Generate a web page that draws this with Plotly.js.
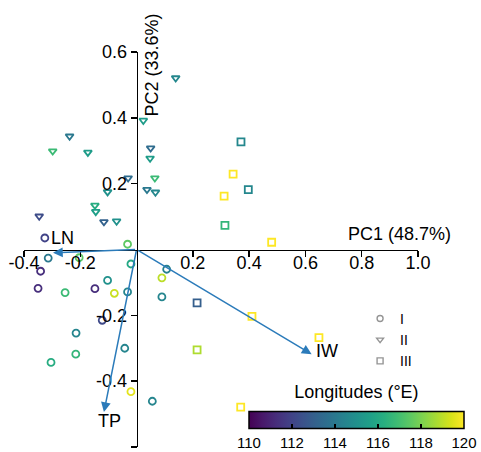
<!DOCTYPE html>
<html>
<head>
<meta charset="utf-8">
<script src="https://cdn.plot.ly/plotly-3.0.1.min.js"></script>
<style>html,body{margin:0;padding:0;background:#fff;}#chart{width:481px;height:452px;}</style>
</head>
<body>
<div id="chart"></div>
<script>
// Group I (circles)
const pc1_I = [-0.326, -0.032, -0.314, -0.204, -0.020, -0.341, 0.107, 0.090, -0.103, -0.350, -0.254, -0.148, -0.079, -0.032, 0.090, -0.122, -0.215, -0.042, -0.216, -0.304, -0.020, 0.056];
const pc2_I = [0.035, 0.016, -0.026, -0.025, -0.044, -0.066, -0.060, -0.086, -0.094, -0.118, -0.131, -0.119, -0.133, -0.129, -0.144, -0.215, -0.254, -0.300, -0.318, -0.343, -0.432, -0.461];
const lon_I = [112.0, 117.5, 114.0, 117.5, 116.0, 111.3, 114.3, 119.0, 115.0, 111.3, 116.8, 111.3, 119.2, 114.5, 114.5, 112.2, 114.5, 114.5, 116.6, 116.2, 119.6, 114.5];
// Group II (triangles)
const pc1_II = [0.139, 0.024, -0.238, -0.298, -0.173, 0.050, 0.048, 0.065, -0.030, -0.103, 0.037, 0.067, -0.148, -0.145, -0.346, -0.116, -0.071];
const pc2_II = [0.521, 0.392, 0.344, 0.299, 0.295, 0.308, 0.277, 0.217, 0.217, 0.175, 0.182, 0.174, 0.134, 0.115, 0.101, 0.084, 0.086];
const lon_II = [114.6, 115.5, 114.0, 116.8, 115.5, 113.5, 115.5, 116.8, 113.5, 115.0, 114.0, 114.6, 116.2, 115.6, 112.3, 113.1, 115.0];
// Group III (squares)
const pc1_III = [0.371, 0.343, 0.397, 0.311, 0.314, 0.480, 0.215, 0.215, 0.410, 0.648, 0.370];
const pc2_III = [0.327, 0.229, 0.182, 0.162, 0.073, 0.022, -0.162, -0.305, -0.203, -0.268, -0.479];
const lon_III = [114.6, 120.0, 114.6, 120.0, 116.6, 120.0, 113.0, 118.8, 120.0, 120.0, 120.0];
// Loadings
const loadNames = ['LN', 'TP', 'IW'];
const loadPC1 = [-0.297, -0.116, 0.622];
const loadPC2 = [-0.010, -0.494, -0.318];
// Ticks
const xTicks = [-0.4, -0.2, 0.2, 0.4, 0.6, 0.8, 1.0];
const xTickText = ['-0.4', '-0.2', '0.2', '0.4', '0.6', '0.8', '1.0'];
const yTicks = [-0.6, -0.4, -0.2, 0.2, 0.4, 0.6];
const yTickText = ['-0.6', '-0.4', '-0.2', '0.2', '0.4', '0.6'];
const cbTicks = [110, 112, 114, 116, 118, 120];
const groupNames = ['I', 'II', 'III'];

const FONT = 'Liberation Sans, Arial, sans-serif';
const ARROW = '#2b7bba';

function pts(x, y, c, sym) {
  return {
    type: 'scatter', mode: 'markers', x: x, y: y, showlegend: false, cliponaxis: false,
    hoverinfo: 'skip',
    marker: { symbol: sym, size: 7, color: c, coloraxis: 'coloraxis', line: { width: 1.8 } }
  };
}
function leg(name, sym) {
  return {
    type: 'scatter', mode: 'markers', x: [null], y: [null], name: name, showlegend: true,
    marker: { symbol: sym, size: 6, color: '#959595', line: { width: 1.4, color: '#959595' } }
  };
}

const data = [
  pts(pc1_I, pc2_I, lon_I, 'circle-open'),
  pts(pc1_II, pc2_II, lon_II, 'triangle-down-open'),
  pts(pc1_III, pc2_III, lon_III, 'square-open'),
  leg(groupNames[0], 'circle-open'),
  leg(groupNames[1], 'triangle-down-open'),
  leg(groupNames[2], 'square-open')
];

const annotations = [];
for (let i = 0; i < loadNames.length; i++) {
  annotations.push({
    x: loadPC1[i], y: loadPC2[i], xref: 'x', yref: 'y',
    ax: 0, ay: 0, axref: 'x', ayref: 'y', text: '', showarrow: true,
    arrowhead: 2, arrowsize: 1.3, arrowwidth: 1.5, arrowcolor: ARROW, standoff: 0
  });
}
const labShift = [[10, 15, 'center'], [6, -9, 'center'], [2, 3, 'left']];
for (let i = 0; i < loadNames.length; i++) {
  annotations.push({
    x: loadPC1[i], y: loadPC2[i], xref: 'x', yref: 'y', text: loadNames[i], showarrow: false,
    xshift: labShift[i][0], yshift: labShift[i][1], xanchor: labShift[i][2], yanchor: 'middle',
    font: { family: FONT, size: 18, color: '#000' }
  });
}
annotations.push({
  x: 1.0, y: 0.0, xref: 'x', yref: 'y', text: 'PC1 (48.7%)', showarrow: false,
  xanchor: 'center', yanchor: 'middle', xshift: -19, yshift: 16,
  font: { family: FONT, size: 18, color: '#000' }
});
annotations.push({
  x: 0.0, y: 0.6, xref: 'x', yref: 'y', text: 'PC2 (33.6%)', showarrow: false, textangle: -90,
  xanchor: 'center', yanchor: 'middle', xshift: 15, yshift: -13,
  font: { family: FONT, size: 18, color: '#000' }
});

const axisCommon = {
  showgrid: false, zeroline: false, showline: true, linecolor: '#000', linewidth: 1.6,
  ticks: 'outside', ticklen: 6, tickwidth: 1.5, tickcolor: '#000',
  tickfont: { family: FONT, size: 18, color: '#000' }, anchor: 'free', fixedrange: true
};

const layout = {
  width: 481, height: 452,
  margin: { l: 24, r: 63, t: 52, b: 5, pad: 0, autoexpand: false },
  paper_bgcolor: '#fff', plot_bgcolor: '#fff',
  font: { family: FONT, size: 18, color: '#000' },
  xaxis: Object.assign({}, axisCommon, { range: [-0.4, 1.0], position: 0.5, tickvals: xTicks, ticktext: xTickText, ticklabelstandoff: -10 }),
  yaxis: Object.assign({}, axisCommon, { range: [-0.6, 0.6], position: 0.4 / 1.4, tickvals: yTicks, ticktext: yTickText }),
  coloraxis: {
    colorscale: 'Viridis', cmin: 110, cmax: 120,
    colorbar: {
      orientation: 'h', thickness: 17, thicknessmode: 'pixels', len: 215, lenmode: 'pixels',
      x: 0.571, xanchor: 'left', y: -0.026, yanchor: 'bottom', xpad: 0, ypad: 0,
      outlinewidth: 1.5, outlinecolor: '#000', ticks: 'inside', ticklen: 5, tickwidth: 1.2, tickcolor: '#000',
      tickvals: cbTicks, tickfont: { family: FONT, size: 15, color: '#000' },
      title: { text: 'Longitudes (°E)', side: 'top', font: { family: FONT, size: 18, color: '#000' } }
    }
  },
  showlegend: true,
  legend: {
    x: 0.853, xanchor: 'left', y: 0.365, yanchor: 'top', bgcolor: 'rgba(0,0,0,0)',
    font: { family: FONT, size: 14, color: '#000' }, tracegroupgap: 0
  },
  annotations: annotations
};

Plotly.newPlot('chart', data, layout, { staticPlot: true, displayModeBar: false });
</script>
</body>
</html>
